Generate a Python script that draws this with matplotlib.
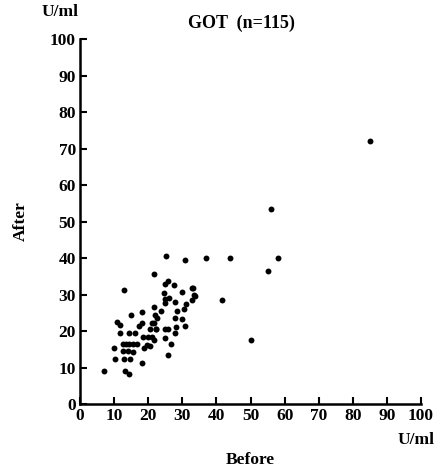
#!/usr/bin/env python3

import matplotlib
matplotlib.use("Agg")
import matplotlib.pyplot as plt
import numpy as np

# GOT values (U/ml)
before = [85, 56, 37, 44, 58, 55, 33, 33.7, 41.7, 50,
          25.2, 30.8, 21.7, 25.7, 25, 27.7, 24.5, 29.8, 32.8, 24.8,
          25, 27.8, 31, 32.8, 21.8, 23.8, 22.5, 27.9, 29.8, 21.8,
          28, 30.8, 20.5, 22.4, 25, 25.9, 27.9, 24.8, 20, 21.6,
          20.4, 26.7, 25.8, 12.8, 14.9, 18.3, 22, 10.8, 11.7, 18.3,
          17.4, 21.2, 22.4, 11.6, 14.3, 16.2, 18.5, 21, 12.5, 13.5,
          14.5, 15.6, 16.6, 19.7, 18.9, 10, 12.6, 14.1, 15.6, 10.2,
          12.8, 14.6, 18.1, 6.9, 13.3, 14.3, 30.5, 26.2, 33.5, 28.5]
after = [72, 53.5, 40, 40, 40, 36.5, 31.8, 29.6, 28.5, 17.5,
         40.7, 39.5, 35.7, 33.7, 32.9, 32.7, 30.5, 30.6, 31.7, 28.8,
         27.6, 27.9, 27.5, 28.5, 26.5, 25.6, 23.6, 23.6, 23.4, 22.1,
         21.2, 21.4, 20.5, 20.5, 20.5, 20.5, 19.4, 18.2, 18.3, 17.5,
         15.9, 16.5, 13.4, 31.3, 24.5, 25.1, 24.3, 22.5, 21.8, 22.3,
         21.4, 22.1, 20.7, 19.5, 19.4, 19.4, 18.3, 18.4, 16.4, 16.6,
         16.6, 16.6, 16.6, 16.2, 15.3, 15.4, 14.5, 14.6, 14.3, 12.3,
         12.4, 12.3, 11.4, 9.2, 9.2, 8.3, 26, 29, 30, 25.5]

ticks = np.arange(0, 101, 10)

plt.rcParams['font.family'] = ['Liberation Serif', 'DejaVu Serif']
plt.rcParams['font.weight'] = 'bold'

fig = plt.figure(figsize=(4.47, 4.71), dpi=100)
ax = fig.add_axes([0.179, 0.142, 0.763, 0.775])

ax.scatter(before, after, s=18, color='black', linewidths=0)

ax.set_xlim(0, 100)
ax.set_ylim(0, 100)
ax.set_xticks(ticks)
ax.set_yticks(ticks)
ax.tick_params(direction='in', length=5, width=1.5, labelsize=12.5, pad=3)
for lab in ax.get_xticklabels() + ax.get_yticklabels():
    lab.set_fontweight('bold')

for s in ['top', 'right']:
    ax.spines[s].set_visible(False)
for s in ['left', 'bottom']:
    ax.spines[s].set_linewidth(1.8)

ax.set_xlabel('Before', fontsize=12.5, fontweight='bold', labelpad=20)
ax.set_ylabel('After', fontsize=12.5, fontweight='bold', labelpad=15)

fig.text(0.54, 0.95, 'GOT  (n=115)', fontsize=13, fontweight='bold',
         ha='center', va='center')
fig.text(0.135, 0.975, 'U/ml', fontsize=12.5, fontweight='bold',
         ha='center', va='center')
fig.text(0.93, 0.065, 'U/ml', fontsize=12.5, fontweight='bold',
         ha='center', va='center')

plt.savefig('out.png', dpi=100)
